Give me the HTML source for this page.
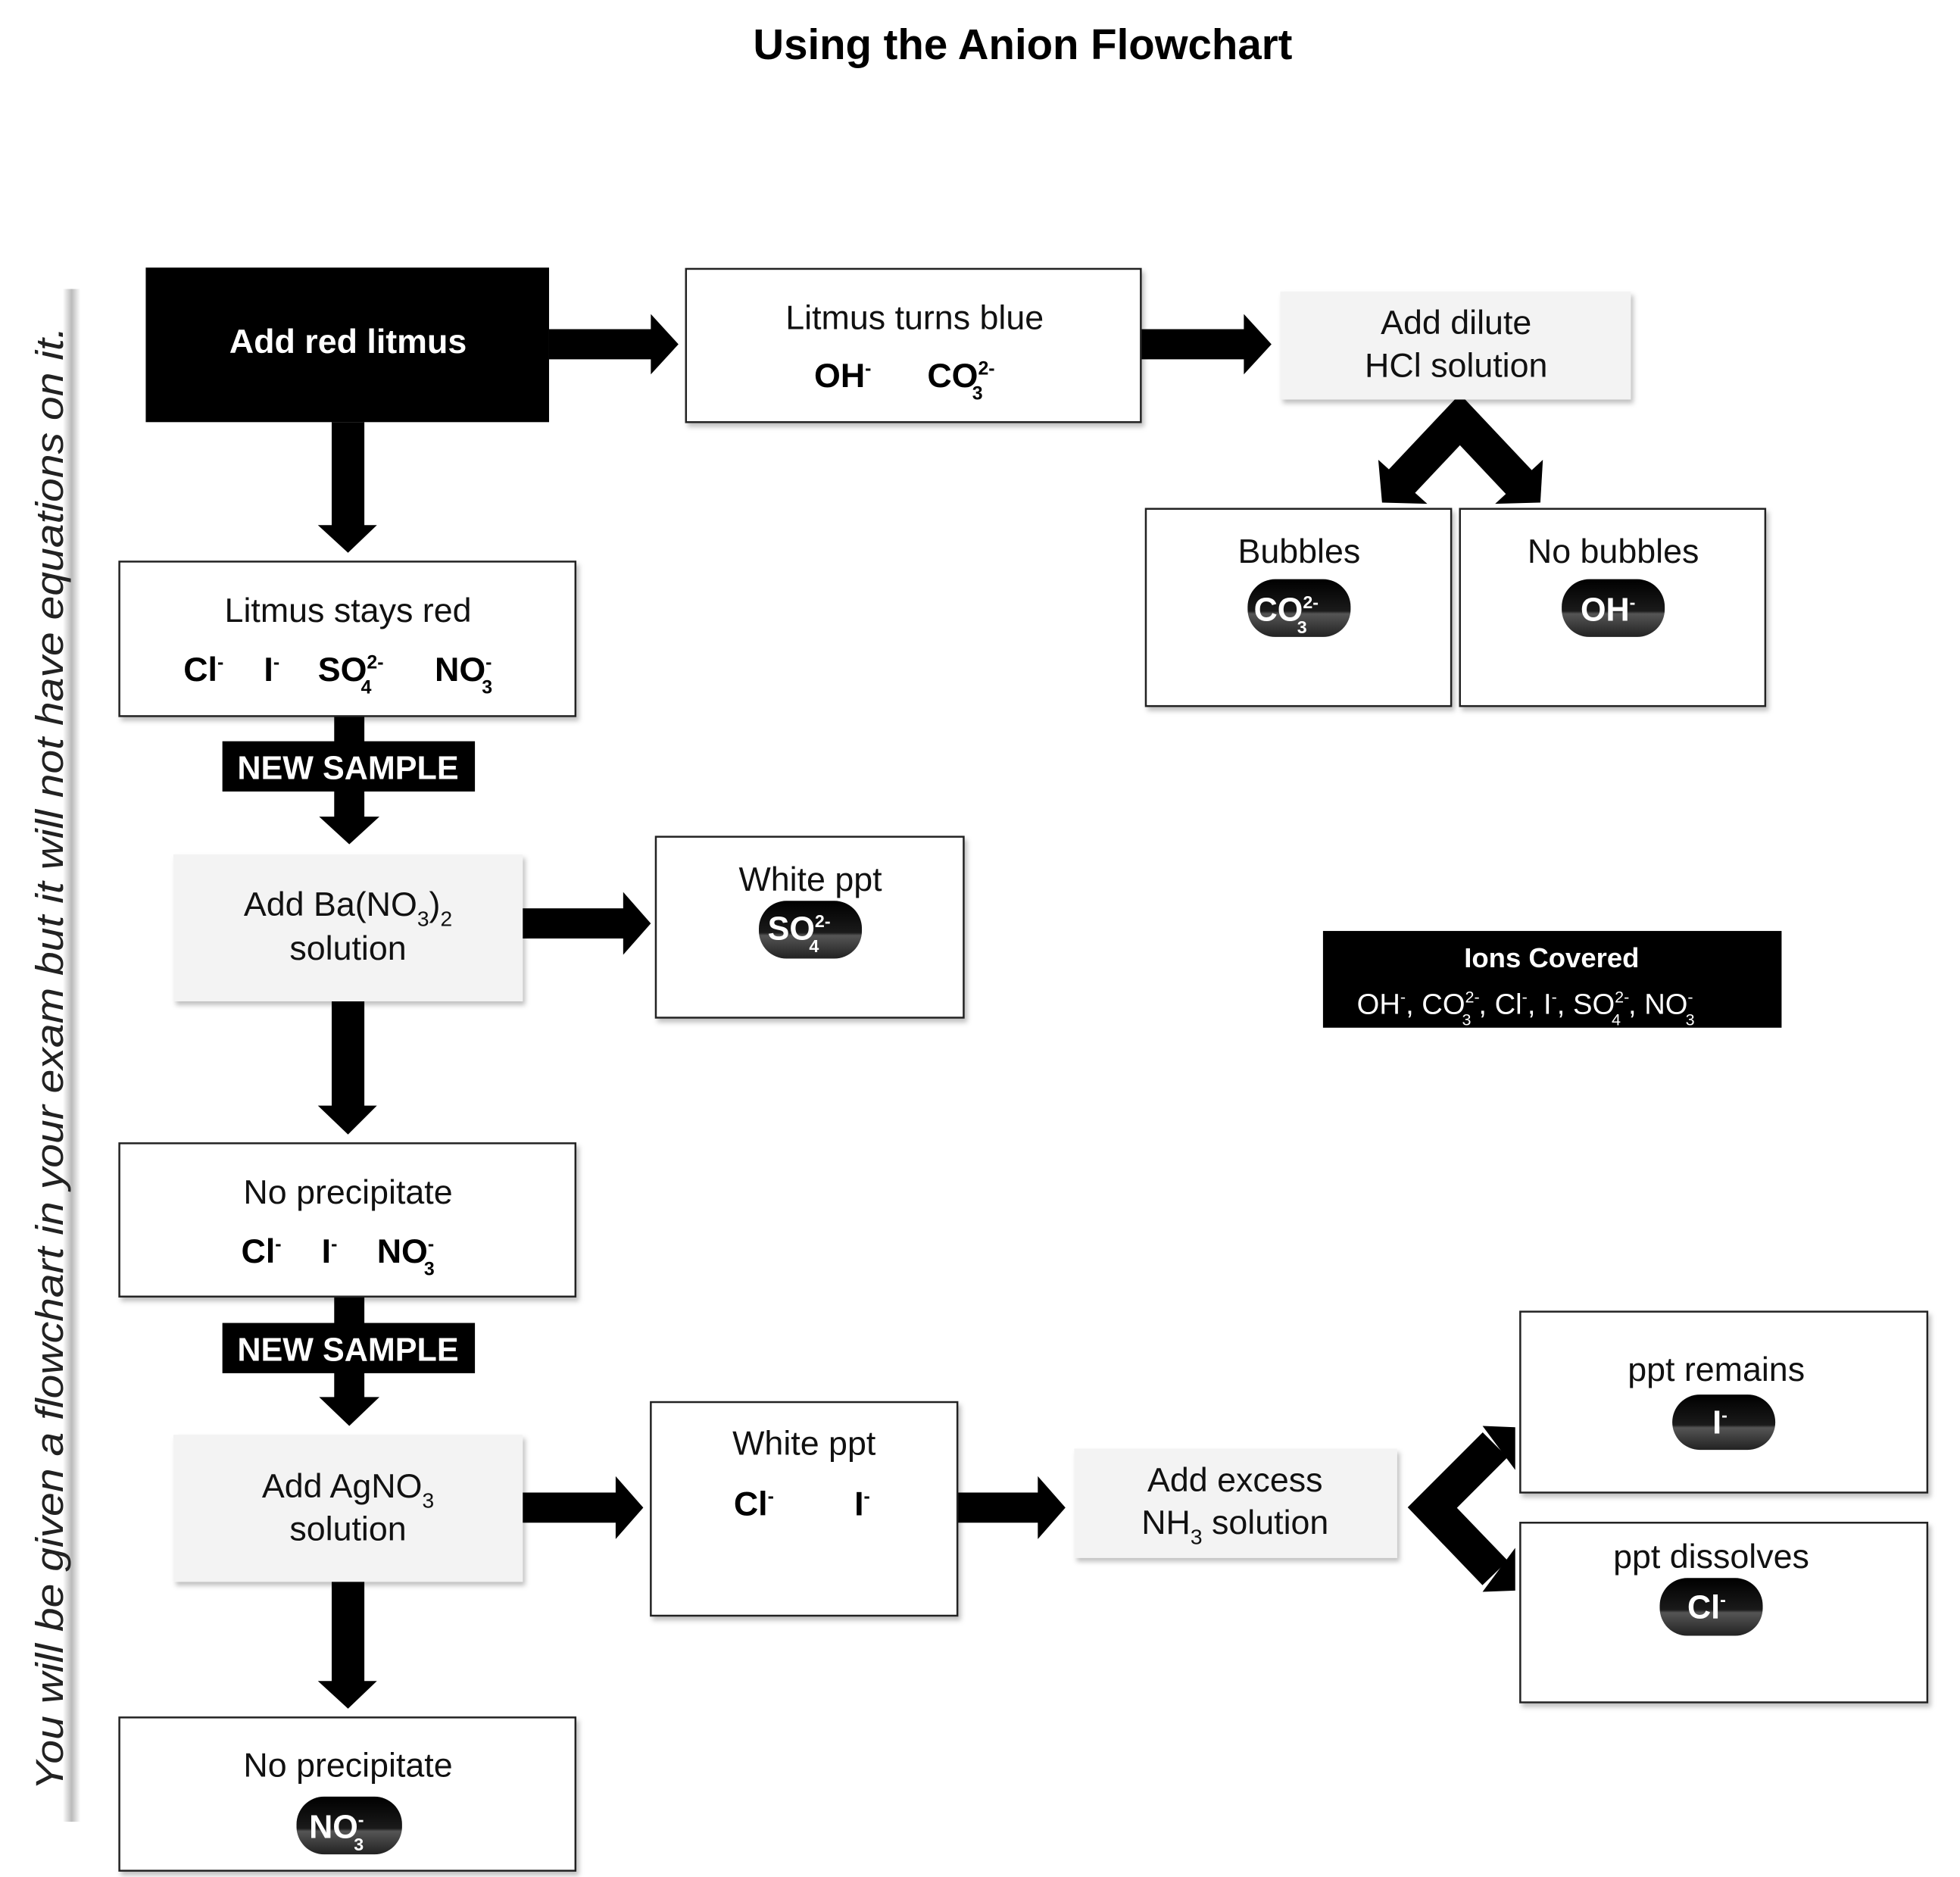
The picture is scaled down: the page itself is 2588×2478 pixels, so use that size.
<!DOCTYPE html>
<html><head><meta charset="utf-8"><style>
html,body{margin:0;padding:0;background:#fff;}
svg{display:block;}
text{font-family:"Liberation Sans",sans-serif;}
</style></head><body>
<svg width="2588" height="2478" viewBox="0 0 1560 1494" preserveAspectRatio="none" xmlns="http://www.w3.org/2000/svg">
<defs>
<linearGradient id="pill" x1="0" y1="0" x2="0" y2="1">
<stop offset="0" stop-color="#000"/><stop offset="0.55" stop-color="#1a1a1a"/><stop offset="0.6" stop-color="#555"/><stop offset="1" stop-color="#222"/>
</linearGradient>
<linearGradient id="bar" x1="0" y1="0" x2="1" y2="0">
<stop offset="0" stop-color="#fff"/><stop offset="0.5" stop-color="#bbb"/><stop offset="1" stop-color="#fff"/>
</linearGradient>
<filter id="sh" x="-5%" y="-5%" width="115%" height="120%"><feDropShadow dx="2" dy="3" stdDeviation="2" flood-color="#000" flood-opacity="0.25"/></filter>
</defs>

<text x="814" y="47" font-size="34" font-weight="bold" text-anchor="middle">Using the Anion Flowchart</text>

<!-- left vertical note -->
<rect x="50" y="230" width="14" height="1220" fill="url(#bar)"/>
<text transform="translate(50,1425) rotate(-90)" font-family="Liberation Serif,serif" font-style="italic" font-size="31" fill="#222" textLength="1165" lengthAdjust="spacingAndGlyphs">You will be given a flowchart in your exam but it will not have equations on it.</text>

<g fill="#000">
<!-- right arrows -->
<rect x="437" y="262" width="84" height="24"/><polygon points="518,250 540,274 518,298"/>
<rect x="908" y="262" width="86" height="24"/><polygon points="990,250 1012,274 990,298"/>
<rect x="416" y="723" width="84" height="24"/><polygon points="496,710 518,735 496,760"/>
<rect x="416" y="1188" width="78" height="24"/><polygon points="490,1175 512,1200 490,1225"/>
<rect x="762" y="1188" width="68" height="24"/><polygon points="826,1175 848,1200 826,1225"/>
<!-- down arrows -->
<rect x="264" y="336" width="26" height="86"/><polygon points="253,418 300,418 277,440"/>
<rect x="266" y="570" width="24" height="84"/><polygon points="254,650 302,650 278,672"/>
<rect x="264" y="797" width="26" height="86"/><polygon points="253,880 300,880 277,903"/>
<rect x="266" y="1032" width="24" height="84"/><polygon points="254,1112 302,1112 278,1135"/>
<rect x="264" y="1259" width="26" height="84"/><polygon points="253,1338 300,1338 277,1360"/>
</g>
<!-- chevrons -->
<polyline points="1113,386 1162,334 1211,386" fill="none" stroke="#000" stroke-width="28" stroke-linejoin="miter"/>
<polygon points="1097,366 1100,400 1136,401" fill="#000"/>
<polygon points="1228,366 1226,400 1190,401" fill="#000"/>
<polyline points="1190,1150 1140,1200 1190,1252" fill="none" stroke="#000" stroke-width="28" stroke-linejoin="miter"/>
<polygon points="1180,1135 1206,1136 1206,1170" fill="#000"/>
<polygon points="1180,1267 1206,1266 1206,1232" fill="#000"/>

<!-- new sample labels -->
<rect x="177" y="590" width="201" height="40" fill="#000"/>
<text x="277" y="620" font-size="26" font-weight="bold" fill="#fff" text-anchor="middle">NEW SAMPLE</text>
<rect x="177" y="1053" width="201" height="40" fill="#000"/>
<text x="277" y="1083" font-size="26" font-weight="bold" fill="#fff" text-anchor="middle">NEW SAMPLE</text>

<!-- Box A -->
<rect x="116" y="213" width="321" height="123" fill="#000"/>
<text x="277" y="281" font-size="27" font-weight="bold" fill="#fff" text-anchor="middle">Add red litmus</text>

<g fill="#fff" stroke="#222" stroke-width="1.5" filter="url(#sh)">
<rect x="546" y="214" width="362" height="122"/>
<rect x="912" y="405" width="243" height="157"/>
<rect x="1162" y="405" width="243" height="157"/>
<rect x="95" y="447" width="363" height="123"/>
<rect x="522" y="666" width="245" height="144"/>
<rect x="95" y="910" width="363" height="122"/>
<rect x="518" y="1116" width="244" height="170"/>
<rect x="1210" y="1044" width="324" height="144"/>
<rect x="1210" y="1212" width="324" height="143"/>
<rect x="95" y="1367" width="363" height="122"/>
</g>
<g fill="#f3f3f3" filter="url(#sh)">
<rect x="1019" y="232" width="279" height="86"/>
<rect x="138" y="680" width="278" height="117"/>
<rect x="138" y="1142" width="278" height="117"/>
<rect x="855" y="1153" width="257" height="87"/>
</g>

<g font-size="27" text-anchor="middle" fill="#111">
<text x="728" y="262">Litmus turns blue</text>
<text x="1159" y="266">Add dilute</text>
<text x="1159" y="300">HCl solution</text>
<text x="1034" y="448">Bubbles</text>
<text x="1284" y="448">No bubbles</text>
<text x="277" y="495">Litmus stays red</text>
<text x="277" y="729">Add Ba(NO<tspan font-size="17" dy="8">3</tspan><tspan dy="-8">)</tspan><tspan font-size="17" dy="8">2</tspan></text>
<text x="277" y="764">solution</text>
<text x="645" y="709">White ppt</text>
<text x="277" y="958">No precipitate</text>
<text x="277" y="1192">Add AgNO<tspan font-size="17" dy="8">3</tspan></text>
<text x="277" y="1226">solution</text>
<text x="640" y="1158">White ppt</text>
<text x="983" y="1187">Add excess</text>
<text x="983" y="1221">NH<tspan font-size="17" dy="8">3</tspan><tspan dy="-8"> solution</tspan></text>
<text x="1366" y="1099">ppt remains</text>
<text x="1362" y="1248">ppt dissolves</text>
<text x="277" y="1414">No precipitate</text>
</g>

<g font-size="27" font-weight="bold" fill="#000">
<text x="648" y="308">OH<tspan font-size="15" dy="-10">-</tspan></text>
<text x="738" y="308">CO<tspan font-size="15" dy="-10">2-</tspan><tspan font-size="15" dx="-18" dy="20">3</tspan></text>
<text x="146" y="542">Cl<tspan font-size="15" dy="-10">-</tspan></text>
<text x="210" y="542">I<tspan font-size="15" dy="-10">-</tspan></text>
<text x="253" y="542">SO<tspan font-size="15" dy="-10">2-</tspan><tspan font-size="15" dx="-18" dy="20">4</tspan></text>
<text x="346" y="542">NO<tspan font-size="15" dy="-10">-</tspan><tspan font-size="15" dx="-8" dy="20">3</tspan></text>
<text x="192" y="1005">Cl<tspan font-size="15" dy="-10">-</tspan></text>
<text x="256" y="1005">I<tspan font-size="15" dy="-10">-</tspan></text>
<text x="300" y="1005">NO<tspan font-size="15" dy="-10">-</tspan><tspan font-size="15" dx="-8" dy="20">3</tspan></text>
<text x="584" y="1206">Cl<tspan font-size="15" dy="-10">-</tspan></text>
<text x="680" y="1206">I<tspan font-size="15" dy="-10">-</tspan></text>
</g>

<!-- pills -->
<g>
<rect x="993" y="461" width="82" height="46" rx="22" fill="url(#pill)"/>
<rect x="1243" y="461" width="82" height="46" rx="22" fill="url(#pill)"/>
<rect x="604" y="717" width="82" height="46" rx="22" fill="url(#pill)"/>
<rect x="1331" y="1110" width="82" height="44" rx="22" fill="url(#pill)"/>
<rect x="1321" y="1256" width="82" height="46" rx="22" fill="url(#pill)"/>
<rect x="236" y="1430" width="84" height="46" rx="22" fill="url(#pill)"/>
</g>
<g font-size="26" font-weight="bold" fill="#fff">
<text x="998" y="494">CO<tspan font-size="14" dy="-10">2-</tspan><tspan font-size="14" dx="-17" dy="20">3</tspan></text>
<text x="1258" y="494">OH<tspan font-size="14" dy="-10">-</tspan></text>
<text x="611" y="748">SO<tspan font-size="14" dy="-10">2-</tspan><tspan font-size="14" dx="-17" dy="20">4</tspan></text>
<text x="1363" y="1141">I<tspan font-size="14" dy="-10">-</tspan></text>
<text x="1343" y="1288">Cl<tspan font-size="14" dy="-10">-</tspan></text>
<text x="246" y="1463">NO<tspan font-size="14" dy="-10">-</tspan><tspan font-size="14" dx="-8" dy="20">3</tspan></text>
</g>

<!-- ions covered -->
<rect x="1053" y="741" width="365" height="77" fill="#000"/>
<text x="1235" y="770" font-size="22" font-weight="bold" fill="#fff" text-anchor="middle">Ions Covered</text>
<text x="1080" y="807" font-size="23" fill="#fff">OH<tspan font-size="13" dy="-9">-</tspan><tspan dy="9">, CO</tspan><tspan font-size="13" dy="-9">2-</tspan><tspan font-size="13" dx="-14" dy="18">3</tspan><tspan dx="6" dy="-9">, Cl</tspan><tspan font-size="13" dy="-9">-</tspan><tspan dy="9">, I</tspan><tspan font-size="13" dy="-9">-</tspan><tspan dy="9">, SO</tspan><tspan font-size="13" dy="-9">2-</tspan><tspan font-size="13" dx="-14" dy="18">4</tspan><tspan dx="6" dy="-9">, NO</tspan><tspan font-size="13" dy="-9">-</tspan><tspan font-size="13" dx="-6" dy="18">3</tspan></text>
</svg>
</body></html>
